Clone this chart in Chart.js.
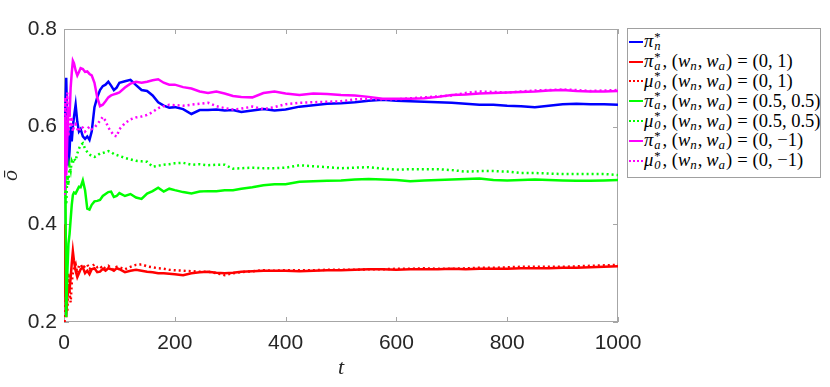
<!DOCTYPE html>
<html>
<head>
<meta charset="utf-8">
<script src="https://cdn.jsdelivr.net/npm/chart.js@4.4.1/dist/chart.umd.min.js"></script>
<style>
  body { margin: 0; background: #fff; }
  #wrap { position: relative; width: 830px; height: 387px; }
  #legend {
    position: absolute; left: 627px; top: 28px; width: 194px; height: 150px;
    border: 1px solid #a0a0a0; background: #fff; box-sizing: border-box;
    font-family: "Liberation Serif", "DejaVu Serif", serif; font-size: 18.5px; color: #000;
    padding-top: 3px; overflow: hidden;
  }
  .row { display: flex; align-items: center; height: 19.8px; line-height: 19px; white-space: nowrap; }
  .sample { width: 14px; margin: 0 1px 0 1px; flex: none; }
  .ss { display: inline-flex; flex-direction: column; font-size: 12.5px; line-height: 9px; margin: 0 2px 0 1px; }
  .sb { font-size: 13px; font-style: italic; position: relative; top: 4px; margin-right: 1px; }
  .eq { margin: 0 5px; }
</style>
</head>
<body>
<div id="wrap">
  <canvas id="chart" width="830" height="387"></canvas>
  <div id="legend"></div>
</div>
<script>
// time steps
const tSteps = [1, 2, 4, 6, 8, 10, 12, 14, 16, 18,
  21, 24, 27, 30, 34, 38, 42, 46, 50,
  55, 60, 65, 70, 75, 80, 85, 90, 95, 100,
  110, 120, 130, 140, 150, 160, 170, 180, 190, 200,
  215, 230, 245, 260, 275, 290, 305, 320, 340, 360, 380, 400,
  425, 450, 475, 500, 525, 550, 575, 600, 625, 650, 675, 700,
  725, 750, 775, 800, 825, 850, 875, 900, 925, 950, 975, 1000];

const piN = [0.50, 0.62, 0.70, 0.60, 0.52, 0.55, 0.60, 0.57, 0.60, 0.62,
  0.645, 0.61, 0.59, 0.595, 0.58, 0.575, 0.58, 0.573, 0.59,
  0.64, 0.66, 0.675, 0.683, 0.686, 0.692, 0.684, 0.675, 0.680, 0.690,
  0.693, 0.696, 0.685, 0.675, 0.673, 0.664, 0.650, 0.643, 0.639, 0.640,
  0.636, 0.626, 0.634, 0.634, 0.635, 0.633, 0.634, 0.630, 0.633, 0.636, 0.633, 0.635,
  0.641, 0.644, 0.647, 0.648, 0.650, 0.653, 0.655, 0.653, 0.652, 0.651, 0.650, 0.649,
  0.647, 0.645, 0.645, 0.643, 0.642, 0.640, 0.643, 0.646, 0.647, 0.646, 0.646, 0.645];

const piA_01 = [0.40, 0.27, 0.21, 0.25, 0.27, 0.265, 0.29, 0.32, 0.345, 0.325,
  0.305, 0.292, 0.300, 0.308, 0.312, 0.300, 0.305, 0.298, 0.308,
  0.310, 0.302, 0.303, 0.309, 0.305, 0.310, 0.308, 0.305, 0.310, 0.308,
  0.302, 0.305, 0.307, 0.305, 0.303, 0.302, 0.300, 0.300, 0.299, 0.298,
  0.296, 0.300, 0.302, 0.303, 0.301, 0.300, 0.301, 0.303, 0.304, 0.305, 0.305, 0.305,
  0.304, 0.305, 0.306, 0.306, 0.307, 0.308, 0.308, 0.307, 0.308, 0.308, 0.308, 0.309,
  0.308, 0.309, 0.309, 0.309, 0.310, 0.310, 0.310, 0.311, 0.311, 0.312, 0.313, 0.314];

const mu0_01 = [0.20, 0.21, 0.28, 0.22, 0.30, 0.26, 0.24, 0.28, 0.30, 0.31,
  0.318, 0.30, 0.315, 0.318, 0.310, 0.315, 0.318, 0.308, 0.314,
  0.318, 0.312, 0.315, 0.308, 0.312, 0.315, 0.310, 0.307, 0.313, 0.312,
  0.308, 0.313, 0.317, 0.318, 0.314, 0.312, 0.310, 0.309, 0.307, 0.306,
  0.305, 0.304, 0.303, 0.303, 0.300, 0.296, 0.300, 0.302, 0.304, 0.306, 0.305, 0.306,
  0.306, 0.306, 0.307, 0.307, 0.307, 0.308, 0.308, 0.309, 0.309, 0.310, 0.309, 0.309,
  0.310, 0.311, 0.311, 0.312, 0.313, 0.313, 0.313, 0.313, 0.314, 0.315, 0.316, 0.317];

const piA_55 = [0.48, 0.62, 0.21, 0.30, 0.36, 0.38, 0.41, 0.44, 0.46, 0.465,
  0.463, 0.470, 0.477, 0.476, 0.490, 0.470, 0.432, 0.430, 0.440,
  0.447, 0.448, 0.450, 0.458, 0.462, 0.466, 0.467, 0.456, 0.458, 0.464,
  0.458, 0.462, 0.455, 0.452, 0.463, 0.468, 0.475, 0.467, 0.473, 0.470,
  0.466, 0.463, 0.467, 0.468, 0.468, 0.470, 0.470, 0.473, 0.476, 0.480, 0.482, 0.482,
  0.487, 0.488, 0.489, 0.490, 0.492, 0.493, 0.492, 0.491, 0.488, 0.490, 0.491, 0.492,
  0.493, 0.494, 0.491, 0.490, 0.491, 0.492, 0.491, 0.490, 0.489, 0.489, 0.490, 0.491];

const mu0_55 = [0.60, 0.46, 0.44, 0.50, 0.48, 0.52, 0.51, 0.53, 0.525, 0.535,
  0.53, 0.545, 0.555, 0.562, 0.566, 0.555, 0.548, 0.543, 0.540,
  0.538, 0.541, 0.545, 0.546, 0.548, 0.550, 0.548, 0.544, 0.542, 0.540,
  0.536, 0.533, 0.530, 0.529, 0.528, 0.518, 0.520, 0.522, 0.523, 0.525,
  0.526, 0.522, 0.523, 0.521, 0.522, 0.522, 0.514, 0.515, 0.516, 0.515, 0.515, 0.516,
  0.521, 0.519, 0.517, 0.515, 0.516, 0.517, 0.514, 0.512, 0.513, 0.513, 0.513, 0.511,
  0.508, 0.509, 0.509, 0.508, 0.505, 0.505, 0.504, 0.503, 0.503, 0.503, 0.503, 0.501];

const piA_0m1 = [0.47, 0.62, 0.50, 0.58, 0.64, 0.62, 0.68, 0.71, 0.735, 0.73,
  0.715, 0.705, 0.712, 0.720, 0.718, 0.712, 0.713, 0.708, 0.705,
  0.690, 0.660, 0.642, 0.645, 0.652, 0.660, 0.664, 0.666, 0.668, 0.670,
  0.680, 0.688, 0.692, 0.690, 0.692, 0.695, 0.697, 0.690, 0.686, 0.686,
  0.681, 0.678, 0.672, 0.669, 0.672, 0.668, 0.663, 0.661, 0.660, 0.669, 0.672, 0.668,
  0.665, 0.668, 0.667, 0.665, 0.664, 0.661, 0.657, 0.657, 0.657, 0.658, 0.661, 0.665,
  0.666, 0.668, 0.669, 0.670, 0.671, 0.672, 0.674, 0.675, 0.673, 0.672, 0.672, 0.673];

const mu0_0m1 = [0.46, 0.66, 0.55, 0.67, 0.58, 0.63, 0.60, 0.62, 0.59, 0.60,
  0.605, 0.595, 0.59, 0.60, 0.598, 0.59, 0.595, 0.60, 0.595,
  0.598, 0.605, 0.612, 0.620, 0.612, 0.598, 0.590, 0.582, 0.580, 0.595,
  0.607, 0.615, 0.619, 0.621, 0.624, 0.630, 0.638, 0.642, 0.645, 0.644,
  0.643, 0.645, 0.647, 0.649, 0.642, 0.638, 0.635, 0.637, 0.641, 0.636, 0.640, 0.646,
  0.649, 0.650, 0.651, 0.652, 0.656, 0.657, 0.656, 0.656, 0.658, 0.660, 0.662, 0.664,
  0.669, 0.672, 0.671, 0.670, 0.672, 0.674, 0.675, 0.676, 0.675, 0.673, 0.674, 0.675];

const xTicks = [0, 200, 400, 600, 800, 1000];
const yTicks = [0.2, 0.4, 0.6, 0.8];

// legend parts
const policySym = ["π", "π", "μ", "π", "μ", "π", "μ"];
const policySub = ["n", "a", "0", "a", "0", "a", "0"];
const weightText = [null, "(0, 1)", "(0, 1)", "(0.5, 0.5)", "(0.5, 0.5)", "(0, −1)", "(0, −1)"];
const seriesValues = [piN, piA_01, mu0_01, piA_55, mu0_55, piA_0m1, mu0_0m1];
const colors = ["#0000ff", "#ff0000", "#ff0000", "#00ff00", "#00ff00", "#ff00ff", "#ff00ff"];
const dotted = [false, false, true, false, true, false, true];

const datasets = seriesValues.map((vals, i) => ({
  label: policySym[i] + "*" + policySub[i] + (weightText[i] ? ", (wn, wa) = " + weightText[i] : ""),
  data: vals.map((v, k) => ({ x: tSteps[k], y: v })),
  borderColor: colors[i],
  borderWidth: 2.5,
  borderDash: dotted[i] ? [2, 3] : [],
  pointRadius: 0,
  tension: 0,
  fill: false,
  order: 7 - i,
}));

const frame = {
  id: "frame",
  beforeDatasetsDraw(chart) {
    const { ctx, chartArea: a, scales } = chart;
    ctx.save();
    ctx.strokeStyle = "#a6a6a6";
    ctx.lineWidth = 1;
    ctx.strokeRect(a.left + 0.5, a.top + 0.5, a.width - 1, a.height - 1);
    ctx.beginPath();
    scales.x.ticks.forEach((t) => {
      const px = Math.round(scales.x.getPixelForValue(t.value)) + 0.5;
      ctx.moveTo(px, a.bottom); ctx.lineTo(px, a.bottom - 5);
      ctx.moveTo(px, a.top); ctx.lineTo(px, a.top + 5);
    });
    scales.y.ticks.forEach((t) => {
      const py = Math.round(scales.y.getPixelForValue(t.value)) + 0.5;
      ctx.moveTo(a.left, py); ctx.lineTo(a.left + 5, py);
      ctx.moveTo(a.right, py); ctx.lineTo(a.right - 5, py);
    });
    ctx.stroke();
    ctx.restore();
  },
};

const tickFont = { family: "'Liberation Sans', Arial, sans-serif", size: 21 };
const titleFont = { family: "'Liberation Serif', serif", size: 22, style: "italic", lineHeight: 1 };

new Chart(document.getElementById("chart"), {
  type: "line",
  data: { datasets },
  options: {
    responsive: false,
    animation: false,
    layout: { padding: { top: 29, right: 212, bottom: 0, left: 0 } },
    plugins: { legend: { display: false }, tooltip: { enabled: false } },
    scales: {
      x: {
        type: "linear", min: 0, max: 1000,
        afterBuildTicks: (s) => { s.ticks = xTicks.map((v) => ({ value: v })); },
        afterFit: (s) => { s.height = 65; },
        grid: { display: false, drawTicks: false },
        border: { display: false },
        ticks: { font: tickFont, color: "#262626", padding: 9, maxRotation: 0, callback: (v) => String(v) },
        title: { display: true, text: "t", font: titleFont, color: "#262626", padding: { top: 0, bottom: 8 } },
      },
      y: {
        min: 0.2, max: 0.8,
        afterBuildTicks: (s) => { s.ticks = yTicks.map((v) => ({ value: v })); },
        afterFit: (s) => { s.width = 64; },
        grid: { display: false, drawTicks: false },
        border: { display: false },
        ticks: { font: tickFont, color: "#262626", padding: 7, callback: (v) => v.toFixed(1) },
        title: { display: true, text: "ō", font: titleFont, color: "#262626", padding: { top: 0, bottom: 0 } },
      },
    },
  },
  plugins: [frame],
});

// html legend so sub/superscripts render as text
const legend = document.getElementById("legend");
seriesValues.forEach((_, i) => {
  const row = document.createElement("div");
  row.className = "row";
  const line = `border-top: 2.5px ${dotted[i] ? "dotted" : "solid"} ${colors[i]}`;
  let html = `<span class="sample" style="${line}"></span>`;
  html += `<i>${policySym[i]}</i><span class="ss"><span>*</span><i>${policySub[i]}</i></span>`;
  if (weightText[i]) {
    html += `,&nbsp;(<i>w</i><span class="sb">n</span>,&thinsp;<i>w</i><span class="sb">a</span>)<span class="eq">=</span>${weightText[i]}`;
  }
  row.innerHTML = html;
  legend.appendChild(row);
});
</script>
</body>
</html>
